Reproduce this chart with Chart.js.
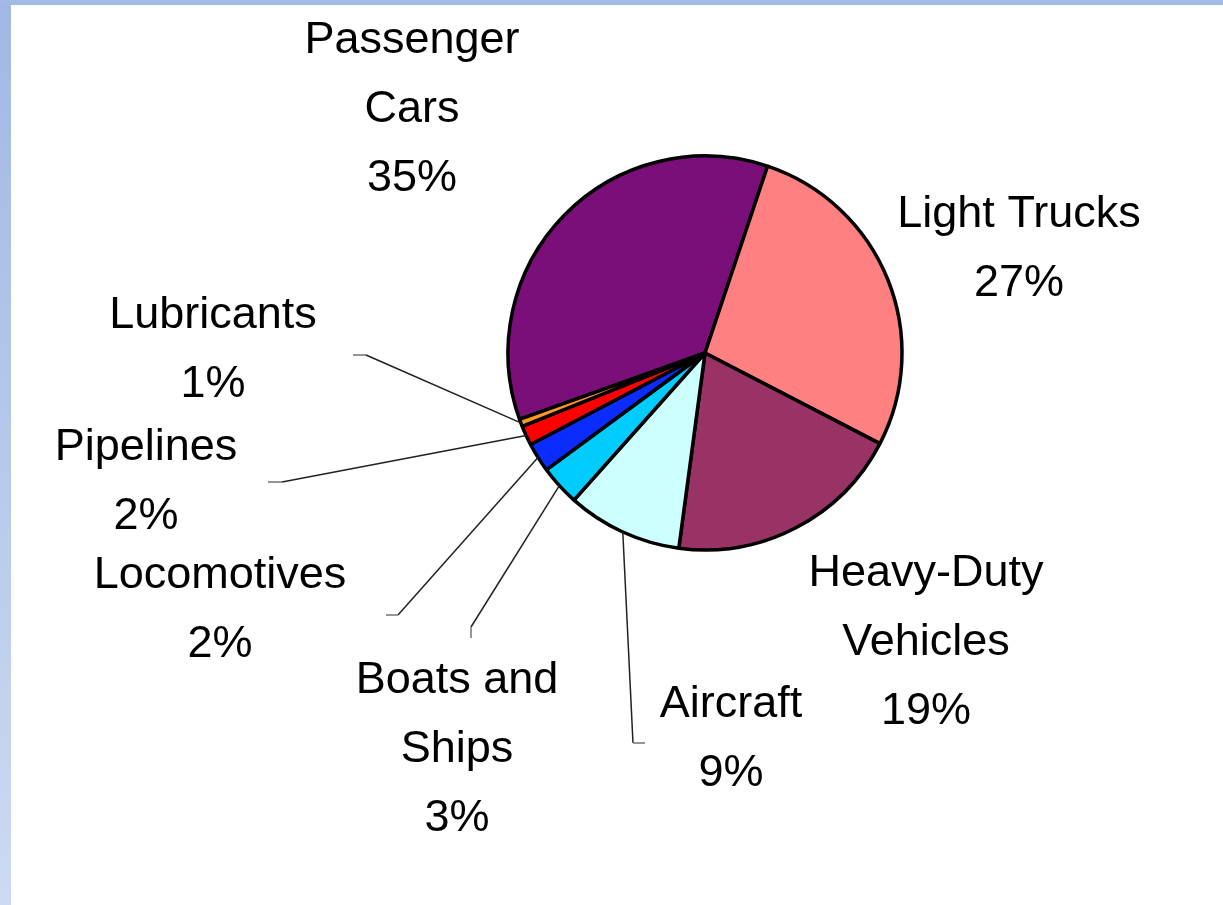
<!DOCTYPE html>
<html>
<head>
<meta charset="utf-8">
<title>Transportation Fuel Use by Mode</title>
<script src="https://cdn.jsdelivr.net/npm/chart.js@4.4.1/dist/chart.umd.min.js"></script>
<style>
  html, body { margin: 0; padding: 0; background: #ffffff; }
  #wrap { position: relative; width: 1223px; height: 905px; }
</style>
</head>
<body>
<div id="wrap"><canvas id="pie"></canvas></div>
<script>
// Categories (each entry split into the lines it is printed on)
const categories = [
  ['Passenger', 'Cars'],
  ['Light Trucks'],
  ['Heavy-Duty', 'Vehicles'],
  ['Aircraft'],
  ['Boats and', 'Ships'],
  ['Locomotives'],
  ['Pipelines'],
  ['Lubricants']
];

// Share of transportation energy use, percent
const shares = [35.4, 27.3, 19.4, 9.4, 3.3, 2.4, 1.6, 0.6];

// Slice fills
const sliceColors = [
  '#7b0f79', // passenger cars
  '#ff8080', // light trucks
  '#993366', // heavy-duty
  '#ccffff', // aircraft
  '#00ccff', // boats and ships
  '#0a2cff', // locomotives
  '#ff0000', // pipelines
  '#ff9922'  // lubricants
];

// Label placement: centre x, first baseline y, optional leader elbow and end
const labelLayout = [
  { x: 412,  y: 53 },
  { x: 1019, y: 227 },
  { x: 926,  y: 586 },
  { x: 731,  y: 717, elbow: [633, 743], end: [645, 743] },
  { x: 457,  y: 693, elbow: [471, 627], end: [471, 638] },
  { x: 220,  y: 588, elbow: [398, 615], end: [386, 615] },
  { x: 146,  y: 460, elbow: [282, 482], end: [268, 482] },
  { x: 213,  y: 328, elbow: [366, 355], end: [353, 355] }
];

const LINE_HEIGHT = 69;
const FONT = '45px "Liberation Sans", Arial, sans-serif';

// Slide frame: blue strip along the top and a fading strip down the left side
const frame = {
  id: 'frame',
  beforeDraw(chart) {
    const ctx = chart.ctx;
    const w = chart.width, h = chart.height;
    ctx.save();
    ctx.fillStyle = '#ffffff';
    ctx.fillRect(0, 0, w, h);
    const g = ctx.createLinearGradient(0, 0, 0, h);
    g.addColorStop(0, '#a0b8e4');
    g.addColorStop(1, '#ccdaf2');
    ctx.fillStyle = g;
    ctx.fillRect(0, 0, 11, h);
    ctx.fillStyle = '#a2bae5';
    ctx.fillRect(0, 0, w, 5);
    ctx.restore();
  }
};

// Category names, rounded percentages and leader lines to the slices
const sliceLabels = {
  id: 'sliceLabels',
  afterDatasetsDraw(chart) {
    const ctx = chart.ctx;
    const meta = chart.getDatasetMeta(0);
    const values = chart.data.datasets[0].data;
    ctx.save();
    meta.data.forEach((arc, i) => {
      const p = arc.getProps(['x', 'y', 'startAngle', 'endAngle', 'outerRadius'], true);
      const lay = labelLayout[i];
      if (lay.elbow) {
        const mid = (p.startAngle + p.endAngle) / 2;
        const sx = p.x + Math.cos(mid) * p.outerRadius;
        const sy = p.y + Math.sin(mid) * p.outerRadius;
        ctx.beginPath();
        ctx.moveTo(sx, sy);
        ctx.lineTo(lay.elbow[0], lay.elbow[1]);
        ctx.strokeStyle = '#222222';
        ctx.lineWidth = 1.5;
        ctx.stroke();
        ctx.beginPath();
        ctx.moveTo(lay.elbow[0], lay.elbow[1]);
        ctx.lineTo(lay.end[0], lay.end[1]);
        ctx.strokeStyle = '#8a8a8a';
        ctx.lineWidth = 1.8;
        ctx.stroke();
      }
      const lines = chart.data.labels[i].concat([Math.round(values[i]) + '%']);
      ctx.font = FONT;
      ctx.fillStyle = '#000000';
      ctx.textAlign = 'center';
      ctx.textBaseline = 'alphabetic';
      lines.forEach((t, k) => ctx.fillText(t, lay.x, lay.y + k * LINE_HEIGHT));
    });
    ctx.restore();
  }
};

new Chart(document.getElementById('pie'), {
  type: 'pie',
  data: {
    labels: categories,
    datasets: [{
      data: shares,
      backgroundColor: sliceColors,
      borderColor: '#000000',
      borderWidth: 3.5,
      radius: 197
    }]
  },
  options: {
    responsive: true,
    maintainAspectRatio: false,
    animation: false,
    events: [],
    rotation: 250.3,
    layout: { padding: { left: 400, right: 213, top: 100, bottom: 299 } },
    plugins: {
      legend: { display: false },
      tooltip: { enabled: false },
      title: { display: false }
    }
  },
  plugins: [frame, sliceLabels]
});
</script>
</body>
</html>
